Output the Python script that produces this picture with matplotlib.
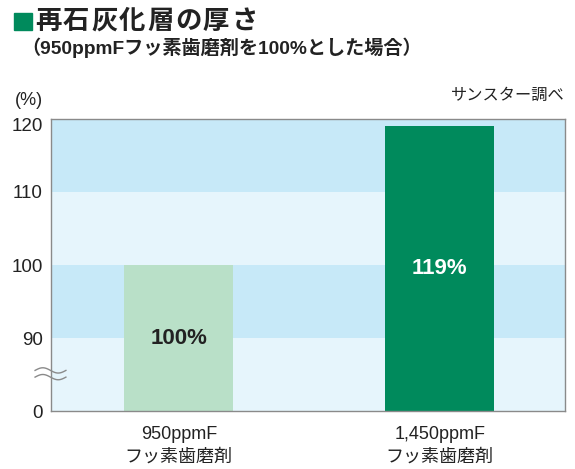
import matplotlib
matplotlib.use("Agg")
import matplotlib.pyplot as plt
import numpy as np
from matplotlib.patches import Rectangle
from matplotlib.transforms import ScaledTranslation

plt.rcParams['font.family'] = ['Liberation Sans', 'Noto Sans CJK JP', 'DejaVu Sans']

categories = ["950ppmF\nフッ素歯磨剤", "1,450ppmF\nフッ素歯磨剤"]
values = [100, 119]
value_labels = ["100%", "119%"]
tick_values = [0, 90, 100, 110, 120]
tick_labels = ["0", "90", "100", "110", "120"]
title = "再石灰化層の厚さ"
subtitle = "（950ppmFフッ素歯磨剤を100%とした場合）"
source = "サンスター調べ"
unit = "(%)"

BREAK_LOW = 80  # display position of 0 on the broken axis


def to_disp(v):
    return BREAK_LOW if v == 0 else v


W, H = 575, 469
fig = plt.figure(figsize=(5.75, 4.69), dpi=100)
ax = fig.add_axes([51/W, 1-411/H, (565-51)/W, (411-119)/H])

# background bands
band_colors = ["#e6f5fc", "#c7e9f8", "#e6f5fc", "#c7e9f8"]
bands = [(80, 90), (90, 100), (100, 110), (110, 120)]
for (lo, hi), c in zip(bands, band_colors):
    ax.axhspan(lo, hi, color=c, zorder=0, lw=0)

x = np.arange(len(categories))
bar_colors = ["#b9e0c8", "#008a5c"]
disp_vals = [to_disp(v) for v in values]
ax.bar(x, [d - BREAK_LOW for d in disp_vals], bottom=BREAK_LOW, width=0.418,
       color=bar_colors, zorder=2)

text_colors = ["#222222", "white"]
for xi, d, lab, tc in zip(x, disp_vals, value_labels, text_colors):
    ax.text(xi, (d + BREAK_LOW) / 2, lab, ha="center", va="center",
            fontsize=16, fontweight="bold", color=tc, zorder=3)

ax.set_xlim(-0.49, 1.48)
ax.set_ylim(BREAK_LOW, 120)
ax.set_yticks([to_disp(v) for v in tick_values])
ax.set_yticklabels(tick_labels, fontsize=13.5, color="#222222")
ax.set_xticks(x)
ax.set_xticklabels(categories, fontsize=13, color="#222222", linespacing=1.45)
ax.tick_params(axis="both", length=0)
ax.tick_params(axis="y", pad=6)
ax.tick_params(axis="x", pad=11)
# top label sits slightly below the top edge
top_lab = ax.get_yticklabels()[-1]
top_lab.set_transform(top_lab.get_transform() + ScaledTranslation(0, -6/100, fig.dpi_scale_trans))
for s in ax.spines.values():
    s.set_color("#8a8a8a")
    s.set_linewidth(1.0)

# axis break marks (two wavy lines)
t = np.linspace(0, 1, 60)
xs = -0.031 + 0.06 * t
for yoff in (0.139, 0.116):
    ys = yoff + 0.009 * np.sin(2 * np.pi * t)
    ax.plot(xs, ys, transform=ax.transAxes, color="#8a8a8a",
            lw=1.0, clip_on=False, zorder=5)

# titles and notes
fig.patches.append(Rectangle((14/W, 1-30/H), 18/W, 17/H,
                             transform=fig.transFigure, color="#008a5c"))
for i, ch in enumerate(title):
    fig.text((35 + i*28)/W, 1-22/H, ch, fontsize=19, fontweight="bold",
             va="center", ha="left", color="#222222")
fig.text(21/W, 1-48/H, subtitle, fontsize=13.8,
         fontweight="bold", va="center", ha="left", color="#222222")
fig.text(29/W, 1-100/H, unit, fontsize=13, va="center", ha="center", color="#222222")
fig.text(565/W, 1-95/H, source, fontsize=11.7, va="center", ha="right", color="#222222")

fig.savefig("out.png", dpi=100)
